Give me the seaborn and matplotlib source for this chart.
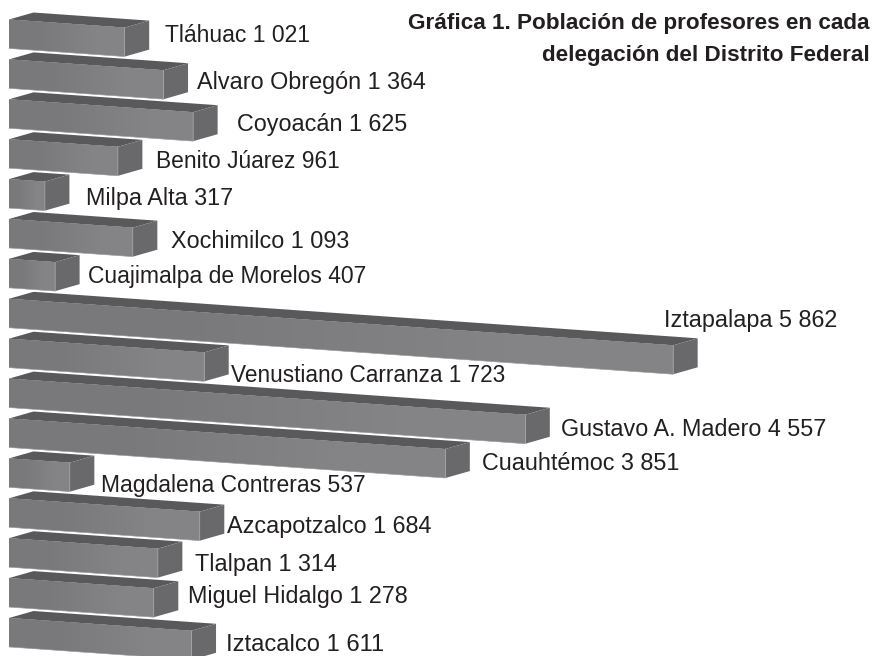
import matplotlib
matplotlib.use("Agg")
import matplotlib.pyplot as plt
import pandas as pd
import seaborn as sns
from matplotlib.colors import LinearSegmentedColormap
from matplotlib.patches import Polygon
from matplotlib.transforms import Affine2D

delegaciones = ["Tláhuac", "Alvaro Obregón", "Coyoacán", "Benito Júarez", "Milpa Alta",
                "Xochimilco", "Cuajimalpa de Morelos", "Iztapalapa", "Venustiano Carranza",
                "Gustavo A. Madero", "Cuauhtémoc", "Magdalena Contreras", "Azcapotzalco",
                "Tlalpan", "Miguel Hidalgo", "Iztacalco"]
profesores = [1021, 1364, 1625, 961, 317, 1093, 407, 5862, 1723, 4557, 3851, 537, 1684, 1314, 1278, 1611]
valores_txt = ["1 021", "1 364", "1 625", "961", "317", "1 093", "407", "5 862", "1 723",
               "4 557", "3 851", "537", "1 684", "1 314", "1 278", "1 611"]

# where each label sits in the picture, in pixels from the top left
label_px = [165, 197, 237, 156, 86, 171, 88, 664, 231, 561, 482, 101, 227, 195, 188, 226]
label_py = [36, 83, 125, 162, 199, 242, 277, 321, 376, 430, 464, 485, 527, 565, 597, 645]
label_size = [16.45, 16.8, 16.8, 16.4, 16.8, 16.8, 16.45, 16.8, 16.3,
              16.8, 16.8, 16.5, 16.8, 16.8, 16.8, 17.1]

W, H = 875, 656
PX_PER_PROF = 0.1133
ROW = 39.9
X0, Y0 = 9, 34
SLOPE = 0.07
DEPTH_X, DEPTH_Y = 24.5, -8.7

FRONT, TOP, SIDE = "#7e7e81", "#59595b", "#69696b"
TEXT = "#231f20"

plt.rcParams["font.family"] = ["Liberation Sans", "DejaVu Sans"]

df = pd.DataFrame({"delegacion": delegaciones, "profesores": profesores})

fig = plt.figure(figsize=(W / 100, H / 100), dpi=100)
ax = fig.add_axes([0, 0, 1, 1])
sns.barplot(data=df, x="profesores", y="delegacion", orient="h", color=FRONT,
            saturation=1, width=29 / ROW, ax=ax)

xlim = (-X0 / PX_PER_PROF, (W - X0) / PX_PER_PROF)
ylim = ((H - Y0) / ROW, -Y0 / ROW)
ax.axis("off")

# shear the bars so they run downhill like the 3D blocks
k = SLOPE / PX_PER_PROF / ROW * PX_PER_PROF ** 2
shear = Affine2D.from_values(1, k, 0, 1, 0, 0) + ax.transData
dx = DEPTH_X / PX_PER_PROF
dy = DEPTH_Y / ROW
front_cmap = LinearSegmentedColormap.from_list("front", ["#79797b", "#848487"])

for bar in list(ax.containers[0]):
    x, y, w, h = bar.get_x(), bar.get_y(), bar.get_width(), bar.get_height()
    bar.set_transform(shear)
    bar.set_edgecolor("none")
    bar.set_zorder(3)
    front = Polygon([(x, y), (x + w, y), (x + w, y + h), (x, y + h)], closed=True, fc="none",
                    ec="none", transform=shear, zorder=3)
    ax.add_patch(front)
    top = [(x, y), (x + w, y), (x + w + dx, y + dy), (x + dx, y + dy)]
    side = [(x + w, y), (x + w + dx, y + dy), (x + w + dx, y + h + dy), (x + w, y + h)]
    ax.add_patch(Polygon(top, closed=True, fc=TOP, ec="none", transform=shear, zorder=2))
    ax.add_patch(Polygon(side, closed=True, fc=SIDE, ec="none", transform=shear, zorder=2))
    # soft left to right shading on the front face
    shade = ax.imshow([[0, 1]], extent=(x, x + w, y + h + 2, y - 2), cmap=front_cmap, aspect="auto",
                      interpolation="bilinear", zorder=3.5)
    shade.set_clip_path(front)
    # thin pale edges along the block corners
    ax.plot([x + w, x + w, x], [y, y + h, y + h], color="#b4b4b6", lw=0.4, transform=shear, zorder=4)

ax.set_xlim(xlim)
ax.set_ylim(ylim)

for name, val, px, py, size in zip(delegaciones, valores_txt, label_px, label_py, label_size):
    ax.text((px - X0) / PX_PER_PROF, (py - Y0) / ROW, f"{name} {val}", fontsize=size,
            color=TEXT, ha="left", va="center", zorder=5)

fig.text(870 / W, 1 - 23 / H, "Gráfica 1. Población de profesores en cada", fontsize=16.2,
         fontweight="bold", color=TEXT, ha="right", va="center")
fig.text(870 / W, 1 - 55 / H, "delegación del Distrito Federal", fontsize=16.2,
         fontweight="bold", color=TEXT, ha="right", va="center")

fig.savefig("out.png", dpi=100)
plt.close(fig)
